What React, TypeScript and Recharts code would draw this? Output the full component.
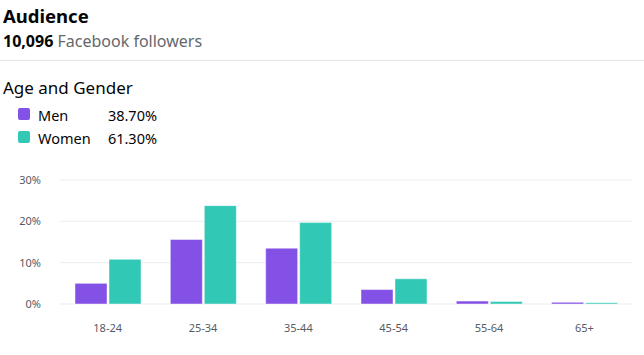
import React from "react";
import { BarChart, Bar, XAxis, YAxis, CartesianGrid } from "recharts";

const ageGroups = ["18-24", "25-34", "35-44", "45-54", "55-64", "65+"];
const menValues = [5.0, 15.6, 13.5, 3.5, 0.7, 0.4];
const womenValues = [10.8, 23.8, 19.7, 6.1, 0.6, 0.3];
const yTicks = [0, 10, 20, 30];
const seriesNames = ["Men", "Women"];
const seriesTotals = ["38.70%", "61.30%"];
const followerCount = "10,096";

const MEN = "#8451e6";
const WOMEN = "#31c8b5";
const colors = [MEN, WOMEN];

const data = ageGroups.map((g, i) => ({ age: g, men: menValues[i], women: womenValues[i] }));

const FONT = "'Noto Sans', 'Open Sans', sans-serif";

export default function App() {
  return (
    <div style={{ position: "absolute", left: 0, top: 0, width: 644, height: 355, background: "#fff", fontFamily: FONT, overflow: "hidden" }}>
      <div style={{ position: "absolute", left: 3, top: 4, fontSize: 18.5, fontWeight: 700, color: "#050505", lineHeight: "24px" }}>Audience</div>
      <div style={{ position: "absolute", left: 3, top: 30, fontSize: 16, lineHeight: "22px", color: "#65676b" }}>
        <span style={{ fontWeight: 700, color: "#050505" }}>{followerCount}</span> Facebook followers
      </div>
      <div style={{ position: "absolute", left: 0, top: 60, width: 644, height: 1, background: "#e4e6eb" }} />
      <div style={{ position: "absolute", left: 3, top: 76, fontSize: 17, lineHeight: "24px", color: "#050505" }}>Age and Gender</div>
      {seriesNames.map((n, i) => (
        <div key={n} style={{ position: "absolute", left: 18, top: 105 + i * 23, height: 20, width: 200, fontSize: 14.5, lineHeight: "20px", color: "#050505" }}>
          <div style={{ position: "absolute", left: 0, top: 3, width: 12, height: 12, borderRadius: 2, background: colors[i] }} />
          <span style={{ position: "absolute", left: 20 }}>{n}</span>
          <span style={{ position: "absolute", right: 61 }}>{seriesTotals[i]}</span>
        </div>
      ))}
      <div style={{ position: "absolute", left: 0, top: 0 }}>
        <BarChart
          width={644}
          height={355}
          data={data}
          margin={{ top: 180, right: 12, bottom: 21, left: 0 }}
          barGap={2}
          barCategoryGap={15}
        >
          <CartesianGrid vertical={false} stroke="#ebedf0" />
          <XAxis
            dataKey="age"
            height={30}
            axisLine={false}
            tickLine={false}
            tickSize={0}
            tickMargin={20}
            tick={{ fontSize: 11, fill: "#575b63", fontFamily: FONT }}
            interval={0}
          />
          <YAxis
            width={60}
            domain={[0, 30]}
            ticks={yTicks}
            axisLine={false}
            tickLine={false}
            tickSize={0}
            tickMargin={19}
            tickFormatter={(v: number) => `${v}%`}
            tick={{ fontSize: 11, fill: "#575b63", fontFamily: FONT }}
          />
          <Bar dataKey="men" fill={MEN} stroke="rgba(255,255,255,0.45)" strokeWidth={1} isAnimationActive={false} />
          <Bar dataKey="women" fill={WOMEN} stroke="rgba(255,255,255,0.45)" strokeWidth={1} isAnimationActive={false} />
        </BarChart>
      </div>
    </div>
  );
}
